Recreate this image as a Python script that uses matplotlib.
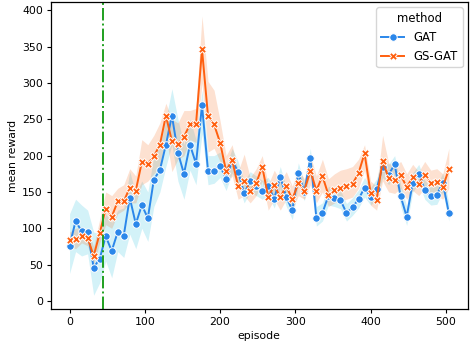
import numpy as np
import matplotlib
matplotlib.use("Agg")
import matplotlib.pyplot as plt

episodes = list(range(0, 512, 8))

gat_mean = [76, 110, 96, 95, 46, 58, 89, 69, 95, 90, 142, 106, 132, 114, 167, 180,
            215, 255, 204, 175, 215, 189, 269, 179, 179, 186, 168, 193, 178, 148, 165, 158,
            152, 158, 141, 171, 143, 125, 176, 150, 197, 114, 121, 145, 142, 139, 121, 129,
            140, 156, 143, 154, 185, 174, 188, 144, 116, 163, 175, 153, 144, 146, 163, 121]
gat_lo = [38, 68, 62, 65, 8, 25, 55, 32, 68, 60, 92, 72, 100, 82, 130, 150,
          185, 215, 165, 140, 180, 160, 230, 160, 162, 170, 152, 176, 160, 135, 150, 145,
          140, 145, 128, 155, 130, 112, 160, 138, 180, 103, 110, 132, 130, 127, 110, 118,
          128, 143, 132, 140, 170, 160, 174, 130, 104, 150, 162, 140, 132, 133, 150, 110]
gat_hi = [120, 140, 132, 125, 95, 92, 120, 108, 125, 128, 178, 148, 165, 150, 200, 212,
          250, 292, 250, 215, 250, 222, 290, 200, 200, 205, 185, 210, 192, 165, 178, 172,
          166, 170, 155, 185, 156, 140, 190, 163, 210, 130, 135, 158, 155, 152, 134, 142,
          153, 170, 156, 168, 198, 188, 200, 160, 130, 176, 188, 166, 157, 160, 176, 135]

gs_mean = [84, 86, 89, 87, 62, 93, 127, 116, 137, 137, 156, 152, 191, 189, 199, 215,
           255, 220, 216, 226, 243, 243, 346, 254, 243, 218, 179, 194, 158, 165, 152, 162,
           185, 143, 159, 143, 158, 140, 162, 152, 179, 152, 172, 146, 153, 155, 158, 161,
           176, 203, 149, 139, 193, 169, 166, 173, 157, 170, 161, 174, 162, 164, 157, 181]
gs_lo = [75, 72, 80, 76, 50, 80, 105, 100, 120, 125, 135, 135, 160, 165, 175, 185,
         228, 178, 195, 200, 222, 218, 300, 205, 210, 192, 160, 172, 140, 145, 135, 145,
         165, 125, 140, 125, 140, 125, 145, 140, 160, 135, 150, 130, 135, 138, 140, 143,
         155, 180, 132, 125, 165, 150, 148, 155, 140, 152, 145, 155, 145, 145, 140, 155]
gs_hi = [95, 100, 102, 98, 75, 112, 150, 145, 155, 160, 182, 172, 222, 215, 228, 245,
         272, 250, 245, 262, 262, 265, 392, 302, 290, 248, 200, 215, 178, 202, 170, 182,
         200, 160, 180, 165, 178, 158, 182, 168, 200, 172, 195, 168, 175, 180, 182, 185,
         195, 215, 165, 158, 228, 190, 185, 192, 175, 188, 178, 192, 180, 182, 175, 210]

methods = ["GAT", "GS-GAT"]
vline_x = 44

s = 0.78
plt.rcParams.update({
    "font.size": 10 * s,
    "axes.linewidth": 0.9,
    "xtick.major.size": 3.5 * s,
    "ytick.major.size": 3.5 * s,
    "xtick.major.pad": 3.5 * s,
    "ytick.major.pad": 3.5 * s,
})

fig = plt.figure(figsize=(4.73, 3.47), dpi=100)
ax = fig.add_axes([0.107, 0.109, 0.882, 0.885])

blue = "#2b87ea"
orange = "#ff5f0f"

ax.fill_between(episodes, gat_lo, gat_hi, color="#23bedc", alpha=0.2, linewidth=0)
ax.plot(episodes, gat_mean, color=blue, lw=1.4, marker="o", markersize=5.4,
        markeredgecolor="white", markeredgewidth=0.7, label=methods[0])
ax.fill_between(episodes, gs_lo, gs_hi, color="#f56919", alpha=0.2, linewidth=0)
ax.plot(episodes, gs_mean, color=orange, lw=1.4, marker="X", markersize=5.4,
        markeredgecolor="white", markeredgewidth=0.7, label=methods[1])

ax.axvline(vline_x, color="#1fa01f", linestyle="-.", lw=1.4)

ax.set_xlabel("episode", labelpad=3)
ax.set_ylabel("mean reward", labelpad=3)
ax.set_yticks(range(0, 401, 50))
ax.set_xticks(range(0, 501, 100))
ax.legend(title="method", loc="upper right", borderaxespad=0.45,
          fontsize=8.4, title_fontsize=8.4)

fig.savefig("out.png", dpi=100)
